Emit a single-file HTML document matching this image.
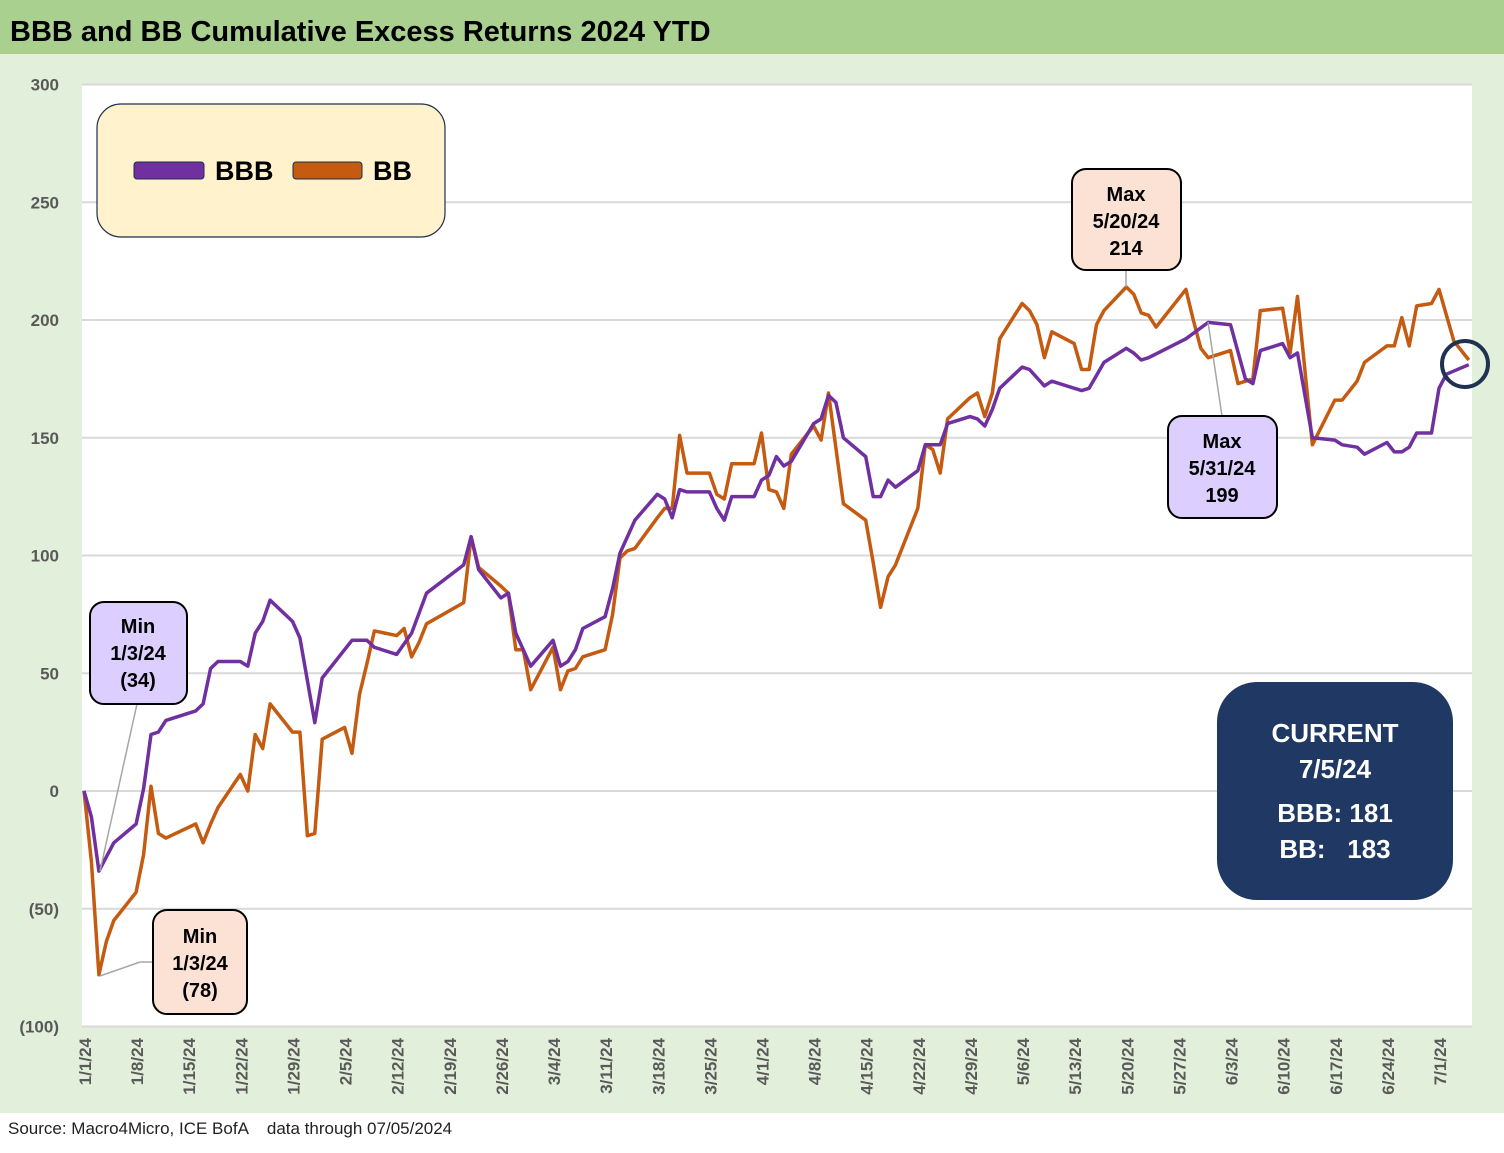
<!DOCTYPE html>
<html><head><meta charset="utf-8"><style>
body{margin:0;width:1504px;height:1148px;overflow:hidden;background:#fff;font-family:"Liberation Sans",sans-serif}
</style></head><body>
<svg width="1504" height="1148" xmlns="http://www.w3.org/2000/svg" font-family="Liberation Sans, sans-serif">
<rect x="0" y="0" width="1504" height="54" fill="#a9d08e"/>
<text x="10" y="41" font-size="29" font-weight="bold" fill="#000">BBB and BB Cumulative Excess Returns 2024 YTD</text>
<rect x="0" y="54" width="1504" height="1059" fill="#e2efda"/>
<rect x="82" y="84" width="1390" height="942" fill="#fff"/>
<g id="grid"></g><g id="ylabels"></g><g id="xlabels"></g>
<g id="series"></g>
<text x="8" y="1134" font-size="17" fill="#222">Source: Macro4Micro, ICE BofA &#160;&#160;&#160;data through 07/05/2024</text>

<g>
<rect x="97" y="104" width="348" height="133" rx="24" fill="#fff2cc" stroke="#1f2e4d" stroke-width="1.2"/>
<rect x="134" y="162" width="70" height="17" rx="3" fill="#7030a0" stroke="#1f2e4d"/>
<text x="215" y="180" font-size="27" font-weight="bold">BBB</text>
<rect x="293" y="162" width="69" height="17" rx="3" fill="#c55a11" stroke="#1f2e4d"/>
<text x="373" y="180" font-size="27" font-weight="bold">BB</text>
</g>

<g stroke="#a6a6a6" stroke-width="1.5" fill="none">
<polyline points="100,871 137,704"/>
<polyline points="100,976 140,962 153,962"/>
<polyline points="1126,287 1126,270"/>
<polyline points="1208,322 1222,416"/>
</g>
<g font-size="20" font-weight="bold" text-anchor="middle">
<g>
<rect x="90" y="602" width="97" height="102" rx="14" fill="#dccfff" stroke="#000" stroke-width="2"/>
<text x="138" y="633">Min</text><text x="138" y="660">1/3/24</text><text x="138" y="687">(34)</text></g>
<g>
<rect x="153" y="910" width="94" height="104" rx="14" fill="#fbe2d5" stroke="#000" stroke-width="2"/>
<text x="200" y="943">Min</text><text x="200" y="970">1/3/24</text><text x="200" y="997">(78)</text></g>
<g>
<rect x="1072" y="169" width="109" height="101" rx="14" fill="#fbe2d5" stroke="#000" stroke-width="2"/>
<text x="1126" y="201">Max</text><text x="1126" y="228">5/20/24</text><text x="1126" y="255">214</text></g>
<g>
<rect x="1168" y="416" width="109" height="102" rx="14" fill="#dccfff" stroke="#000" stroke-width="2"/>
<text x="1222" y="448">Max</text><text x="1222" y="475">5/31/24</text><text x="1222" y="502">199</text></g>
</g>
<g>
<rect x="1217" y="682" width="236" height="218" rx="40" fill="#203864"/>
<g fill="#fff" font-size="26" font-weight="bold" text-anchor="middle">
<text x="1335" y="742">CURRENT</text><text x="1335" y="778">7/5/24</text>
<text x="1335" y="822">BBB: 181</text><text x="1335" y="858">BB: &#160;&#160;183</text></g>
</g>
<circle cx="1465" cy="364" r="23" fill="none" stroke="#1f3251" stroke-width="4"/>
</svg>
<script>
const yTicks=[300,250,200,150,100,50,0,-50,-100];
const yTickLabels=["300","250","200","150","100","50","0","(50)","(100)"];
const xTickDays=[0,7,14,21,28,35,42,49,56,63,70,77,84,91,98,105,112,119,126,133,140,147,154,161,168,175,182];
const xTickLabels=["1/1/24","1/8/24","1/15/24","1/22/24","1/29/24","2/5/24","2/12/24","2/19/24","2/26/24","3/4/24","3/11/24","3/18/24","3/25/24","4/1/24","4/8/24","4/15/24","4/22/24","4/29/24","5/6/24","5/13/24","5/20/24","5/27/24","6/3/24","6/10/24","6/17/24","6/24/24","7/1/24"];
const bbbDays=[0,1,2,4,7,8,9,10,11,15,16,17,18,21,22,23,24,25,28,29,31,32,36,38,39,42,44,46,51,52,53,56,57,58,60,63,64,65,66,67,70,71,72,74,77,78,79,80,81,84,85,86,87,90,91,92,93,94,95,98,99,100,101,102,105,106,107,108,109,112,113,115,116,119,120,121,122,123,126,127,129,130,134,135,137,140,141,142,143,148,151,154,156,157,158,161,162,163,165,168,169,171,172,175,176,177,178,179,181,182,183,186];
const bbbValues=[0,-11,-34,-22,-14,1,24,25,30,34,37,52,55,55,53,67,72,81,72,65,29,48,64,64,61,58,67,84,96,108,94,82,84,67,53,64,53,55,60,69,74,86,101,115,126,124,116,128,127,127,120,115,125,125,132,134,142,138,140,156,158,168,165,150,142,125,125,132,129,136,147,147,156,159,158,155,162,171,180,179,172,174,170,171,182,188,186,183,184,192,199,198,175,173,187,190,184,186,150,149,147,146,143,148,144,144,146,152,152,171,177,181];
const bbDays=[0,1,2,3,4,7,8,9,10,11,15,16,17,18,21,22,23,24,25,28,29,30,31,32,35,36,37,38,39,42,43,44,45,46,51,52,53,56,57,58,59,60,63,64,65,66,67,70,71,72,73,74,77,78,79,80,81,84,85,86,87,90,91,92,93,94,95,98,99,100,102,105,106,107,108,109,112,113,114,115,116,119,120,121,122,123,126,127,128,129,130,133,134,135,136,137,140,141,142,143,144,148,149,150,151,154,155,157,158,161,162,163,165,168,169,171,172,175,176,177,178,179,181,182,184,186];
const bbValues=[0,-30,-78,-64,-55,-43,-27,2,-18,-20,-14,-22,-14,-7,7,0,24,18,37,25,25,-19,-18,22,27,16,41,54,68,66,69,57,63,71,80,108,95,87,84,60,60,43,61,43,51,52,57,60,75,99,102,103,116,120,120,151,135,135,126,124,139,139,152,128,127,120,143,155,149,169,122,115,97,78,91,96,120,147,145,135,158,167,169,159,169,192,207,204,198,184,195,190,179,179,198,204,214,211,203,202,197,213,200,188,184,187,173,175,204,205,186,210,147,166,166,174,182,189,189,201,189,206,207,213,191,183];

const NS="http://www.w3.org/2000/svg";
const X0=84,PXD=7.445,Y0=791,PXV=2.355;
function xScale(d){return X0+d*PXD;}
function yScale(v){return Y0-v*PXV;}
function mk(tag,attrs,parent){const e=document.createElementNS(NS,tag);for(const k in attrs)e.setAttribute(k,attrs[k]);parent.appendChild(e);return e;}
const grid=document.getElementById('grid'),yl=document.getElementById('ylabels'),xl=document.getElementById('xlabels'),ser=document.getElementById('series');
yTicks.forEach((t,i)=>{
  const ln=mk('line',{x1:82,x2:1472,y1:yScale(t),y2:yScale(t),stroke:'#d9d9d9','stroke-width':2},grid);
  
  
  const tx=mk('text',{x:59,y:yScale(t)+6,'text-anchor':'end','font-size':17,'font-weight':'bold',fill:'#595959'},yl);
  tx.textContent=yTickLabels[i];
  
  
});
xTickDays.forEach((d,i)=>{
  const x=xScale(d);
  const tx=mk('text',{x:0,y:0,transform:`translate(${x+7},1038) rotate(-90)`,'text-anchor':'end','font-size':17,'font-weight':'bold',fill:'#595959'},xl);
  tx.textContent=xTickLabels[i];
  
  
});
function line(days,vals,color,name){
  const pts=days.map((d,i)=>xScale(d).toFixed(1)+','+yScale(vals[i]).toFixed(1)).join(' ');
  const p=mk('polyline',{points:pts,fill:'none',stroke:color,'stroke-width':3.5,'stroke-linejoin':'round'},ser);
  
  
}
line(bbDays,bbValues,'#c55a11','bb-line');
line(bbbDays,bbbValues,'#7030a0','bbb-line');
</script>
</body></html>
